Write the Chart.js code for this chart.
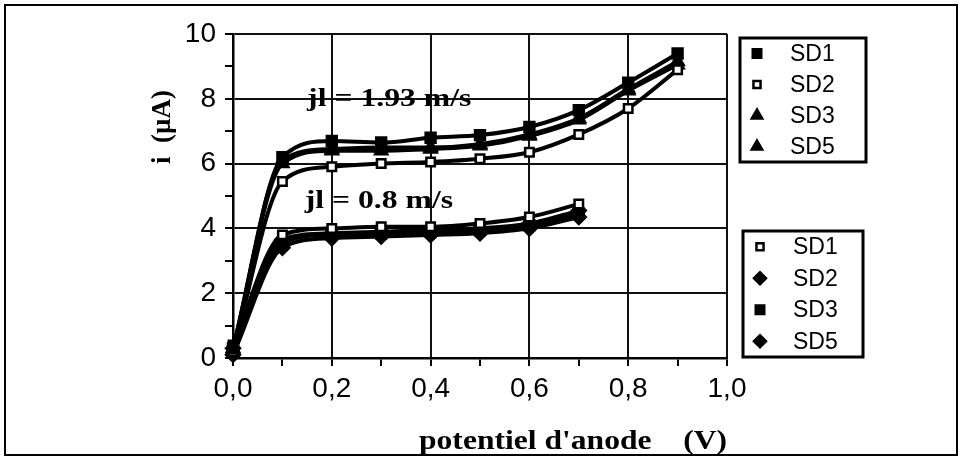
<!DOCTYPE html>
<html>
<head>
<meta charset="utf-8">
<script src="https://cdn.jsdelivr.net/npm/chart.js@4/dist/chart.umd.min.js"></script>
<style>
  html, body { margin: 0; padding: 0; background: #fff; }
  #wrap { width: 963px; height: 465px; position: relative; }
</style>
</head>
<body>
<div id="wrap"><canvas id="ivChart"></canvas></div>
<script>
// anode potential (V)
const potFast = [0.0, 0.1, 0.2, 0.3, 0.4, 0.5, 0.6, 0.7, 0.8, 0.9];
const potSlow = [0.0, 0.1, 0.2, 0.3, 0.4, 0.5, 0.6, 0.7];

// current i (µA), jl = 1.93 m/s
const sd1Fast = [0.3, 6.2, 6.7, 6.65, 6.8, 6.88, 7.13, 7.65, 8.5, 9.4];
const sd2Fast = [0.2, 5.45, 5.9, 6.0, 6.05, 6.15, 6.35, 6.9, 7.7, 8.9];
const sd3Fast = [0.3, 6.0, 6.4, 6.4, 6.45, 6.55, 6.85, 7.35, 8.25, 9.05];
const sd5Fast = [0.25, 6.1, 6.45, 6.5, 6.5, 6.6, 6.9, 7.4, 8.3, 9.15];

// current i (µA), jl = 0.8 m/s
const sd1Slow = [0.4, 3.8, 4.0, 4.05, 4.05, 4.15, 4.35, 4.75];
const sd2Slow = [0.3, 3.65, 3.85, 3.9, 3.95, 4.0, 4.15, 4.55];
const sd3Slow = [0.2, 3.55, 3.8, 3.85, 3.9, 3.95, 4.1, 4.45];
const sd5Slow = [0.1, 3.4, 3.7, 3.75, 3.8, 3.85, 4.0, 4.35];

const labelsFast = ['SD1', 'SD2', 'SD3', 'SD5'];
const labelsSlow = ['SD1', 'SD2', 'SD3', 'SD5'];
const xTickLabels = ['0,0', '0,2', '0,4', '0,6', '0,8', '1,0'];
const yTickLabels = ['0', '2', '4', '6', '8', '10'];

const notes = [
    { text: 'jl = 1.93 m/s', x: 0.15, y: 8.0 },
    { text: 'jl = 0.8 m/s', x: 0.145, y: 4.85 }
];

function pairs(xs, ys) {
    return ys.map((y, i) => ({ x: xs[i], y: y }));
}

// marker looks, same order as labels
const fastMarks = [
    { pointStyle: 'rect', fill: '#000', r: 7 },
    { pointStyle: 'rect', fill: '#fff', r: 6 },
    { pointStyle: 'triangle', fill: '#000', r: 7 },
    { pointStyle: 'triangle', fill: '#000', r: 7 }
];
const slowMarks = [
    { pointStyle: 'rect', fill: '#fff', r: 6 },
    { pointStyle: 'rectRot', fill: '#000', r: 7 },
    { pointStyle: 'rect', fill: '#000', r: 7 },
    { pointStyle: 'rectRot', fill: '#000', r: 7 }
];

function makeSet(label, xs, ys, mark) {
    return {
        label: label,
        data: pairs(xs, ys),
        borderColor: '#000',
        borderWidth: 4,
        backgroundColor: mark.fill,
        pointStyle: mark.pointStyle,
        pointRadius: mark.r,
        pointBorderColor: '#000',
        pointBorderWidth: 2.5,
        pointBackgroundColor: mark.fill,
        cubicInterpolationMode: 'monotone',
        fill: false,
        clip: false
    };
}

const datasets = [
    makeSet('SD1', potFast, sd1Fast, fastMarks[0]),
    makeSet('SD2', potFast, sd2Fast, fastMarks[1]),
    makeSet('SD3', potFast, sd3Fast, fastMarks[2]),
    makeSet('SD5', potFast, sd5Fast, fastMarks[3]),
    makeSet('SD1', potSlow, sd1Slow, slowMarks[0]),
    makeSet('SD2', potSlow, sd2Slow, slowMarks[1]),
    makeSet('SD3', potSlow, sd3Slow, slowMarks[2]),
    makeSet('SD5', potSlow, sd5Slow, slowMarks[3])
];

// serif text in the scan is wider than the font, so stretch it a bit
function wideText(ctx, text, x, y, align, sx) {
    ctx.save();
    ctx.translate(x, y);
    ctx.scale(sx, 1);
    ctx.textAlign = align;
    ctx.fillText(text, 0, 0);
    ctx.restore();
}

// frame, notes, titles and the two legend boxes
const decorPlugin = {
    id: 'decor',
    beforeDraw(chart) {
        const ctx = chart.ctx;
        ctx.save();
        ctx.fillStyle = '#fff';
        ctx.fillRect(0, 0, chart.width, chart.height);
        ctx.strokeStyle = '#000';
        ctx.lineWidth = 2;
        ctx.strokeRect(5, 5, 952, 450);
        ctx.restore();
    },
    afterDraw(chart) {
        const ctx = chart.ctx;
        const xs = chart.scales.x, ys = chart.scales.y;
        ctx.save();
        ctx.fillStyle = '#000';
        ctx.textBaseline = 'middle';

        // in-plot notes
        ctx.font = 'bold 26px "Liberation Serif", serif';
        notes.forEach(n => {
            wideText(ctx, n.text, xs.getPixelForValue(n.x), ys.getPixelForValue(n.y), 'left', 1.22);
        });

        // axis titles
        ctx.font = 'bold 27px "Liberation Serif", serif';
        wideText(ctx, "potentiel d'anode    (V)", chart.chartArea.right, 442, 'right', 1.17);

        ctx.save();
        ctx.translate(163, 127);
        ctx.rotate(-Math.PI / 2);
        ctx.textAlign = 'center';
        ctx.font = 'bold 27px "Liberation Serif", serif';
        ctx.fillText('i  (\u00b5A)', 0, 0);
        ctx.restore();

        // legends
        drawLegend(ctx, { x: 740, y: 38, w: 126, h: 124 }, labelsFast, fastMarks);
        drawLegend(ctx, { x: 743, y: 231, w: 120, h: 126 }, labelsSlow, slowMarks);
        ctx.restore();
    }
};

function drawLegend(ctx, box, labels, marks) {
    ctx.save();
    ctx.fillStyle = '#fff';
    ctx.fillRect(box.x, box.y, box.w, box.h);
    ctx.strokeStyle = '#000';
    ctx.lineWidth = 3;
    ctx.strokeRect(box.x, box.y, box.w, box.h);
    const step = box.h / labels.length;
    ctx.font = '23px "Liberation Sans", Arial, sans-serif';
    ctx.textBaseline = 'middle';
    ctx.textAlign = 'left';
    labels.forEach((lab, i) => {
        const cy = box.y + step * (i + 0.5);
        const m = marks[i];
        ctx.fillStyle = m.fill;
        ctx.strokeStyle = '#000';
        ctx.lineWidth = 2.5;
        Chart.helpers.drawPoint(ctx, { pointStyle: m.pointStyle, radius: m.r - 1, rotation: 0, borderWidth: 2.5 }, box.x + 17, cy);
        ctx.fillStyle = '#000';
        ctx.fillText(lab, box.x + 50, cy + 1);
    });
    ctx.restore();
}

const gridColor = (ctx, every) => {
    const v = ctx.tick ? ctx.tick.value : 0;
    return Math.abs(Math.round(v / every) * every - v) < 1e-6 ? '#111' : 'rgba(0,0,0,0)';
};

const tickFont = { family: '"Liberation Sans", Arial, sans-serif', size: 28 };

new Chart(document.getElementById('ivChart'), {
    type: 'line',
    data: { datasets: datasets },
    options: {
        responsive: true,
        maintainAspectRatio: false,
        animation: false,
        layout: { padding: { left: 173, right: 236, top: 34, bottom: 47 } },
        plugins: {
            legend: { display: false },
            tooltip: { enabled: false }
        },
        scales: {
            x: {
                type: 'linear',
                min: 0,
                max: 1,
                afterFit: s => { s.height = 60; },
                border: { display: true, color: '#000', width: 2.5 },
                grid: {
                    color: c => gridColor(c, 0.2),
                    tickColor: '#000',
                    lineWidth: 2,
                    tickLength: 8,
                    tickWidth: 2
                },
                ticks: {
                    stepSize: 0.1,
                    autoSkip: false,
                    maxRotation: 0,
                    padding: 6,
                    color: '#000',
                    font: tickFont,
                    callback: function (value) {
                        const k = Math.round(value * 10);
                        return k % 2 === 0 ? xTickLabels[k / 2] : '';
                    }
                }
            },
            y: {
                min: 0,
                max: 10,
                afterFit: s => { s.width = 60; },
                border: { display: true, color: '#000', width: 2.5 },
                grid: {
                    color: c => gridColor(c, 2),
                    tickColor: '#000',
                    lineWidth: 2,
                    tickLength: 8,
                    tickWidth: 2
                },
                ticks: {
                    stepSize: 1,
                    autoSkip: false,
                    padding: 9,
                    color: '#000',
                    font: tickFont,
                    callback: function (value) {
                        const k = Math.round(value);
                        return k % 2 === 0 ? yTickLabels[k / 2] : '';
                    }
                }
            }
        }
    },
    plugins: [decorPlugin]
});
</script>
</body>
</html>
